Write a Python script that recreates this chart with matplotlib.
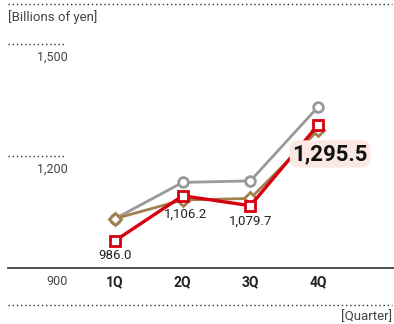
import matplotlib.pyplot as plt
import matplotlib.transforms as mtransforms
import numpy as np

plt.rcParams['font.family'] = ['Roboto', 'DejaVu Sans']

quarters = ['1Q', '2Q', '3Q', '4Q']
series_gray = [1045, 1142, 1146, 1344]
series_brown = [1045, 1095, 1099, 1281]
series_red = [986.0, 1106.2, 1079.7, 1295.5]
red_labels = ['986.0', '1,106.2', '1,079.7', '1,295.5']
y_ticks = [900, 1200, 1500]
y_tick_labels = ['900', '1,200', '1,500']

W, H = 394, 324
fig = plt.figure(figsize=(W / 100, H / 100), dpi=100)
# axes in pixel coords
ax = fig.add_axes([0, (H - 272.9) / H, 1, (272.9 - 48.5) / H])
x = np.arange(len(quarters))
# 1Q at px 115, spacing 67.7 px
ax.set_xlim(-115 / 67.7, (W - 115) / 67.7)
ax.set_ylim(900, 1500)
ax.axis('off')

ax.plot(x, series_gray, color='#999999', lw=2, marker='o', ms=7,
        mfc='white', mec='#999999', mew=2, zorder=2)
ax.plot(x, series_brown, color='#a0804f', lw=2, marker='D', ms=6.5,
        mfc='white', mec='#a0804f', mew=2, zorder=3)
ax.plot(x, series_red, color='#d7000f', lw=2.4, marker='s', ms=7,
        mfc='white', mec='#d7000f', mew=2, zorder=4)

dots = (0, (1, 2))
xmin_ax = 8 / W
up = mtransforms.offset_copy(ax.get_yaxis_transform(), fig=fig, x=0, y=5, units='dots')
down = mtransforms.offset_copy(ax.get_yaxis_transform(), fig=fig, x=0, y=-9, units='dots')
for v, lab in zip(y_ticks, y_tick_labels):
    if v == 900:
        ax.plot([xmin_ax, 1], [v, v], color='#333333', lw=1.2, transform=up, clip_on=False)
    else:
        ax.plot([xmin_ax, 65 / W], [v, v], color='#333333', lw=1.0,
                ls=dots, transform=up, clip_on=False)
    ax.text(68 / W, v, lab, transform=down, ha='right', va='center',
            fontsize=9, color='#444444')

# quarter labels
for xi, q in zip(x, quarters):
    ax.annotate(q, (xi, 900), xytext=(0, -9), textcoords='offset pixels',
                ha='center', va='center', fontsize=10, fontweight='bold',
                color='#222222')

# value labels
offsets = [(0, -15), (3, -18), (0, -16), None]
for xi, v, lab, off in zip(x, series_red, red_labels, offsets):
    if off is None:
        continue
    ax.annotate(lab, (xi, v), xytext=off, textcoords='offset pixels',
                ha='center', va='center', fontsize=9.5, color='#222222')
ax.annotate(red_labels[3], (x[3], series_red[3]), xytext=(12, -29),
            textcoords='offset pixels', ha='center', va='center',
            fontsize=16, fontweight='bold', color='#111111', zorder=6,
            bbox=dict(boxstyle='round,pad=0.12,rounding_size=0.4',
                      fc='#fbe8e2', ec='none'))

# header and footer
for yp in (4, 305):
    fig.add_artist(plt.Line2D([8 / W, 392 / W], [1 - yp / H, 1 - yp / H],
                              color='#333333', lw=1.0, ls=dots))
fig.text(8 / W, 1 - 17 / H, '[Billions of yen]', ha='left', va='center',
         fontsize=9.5, color='#444444')
fig.text(392 / W, 1 - 317 / H, '[Quarter]', ha='right', va='center',
         fontsize=9.5, color='#444444')

fig.savefig('out.png', dpi=100)
